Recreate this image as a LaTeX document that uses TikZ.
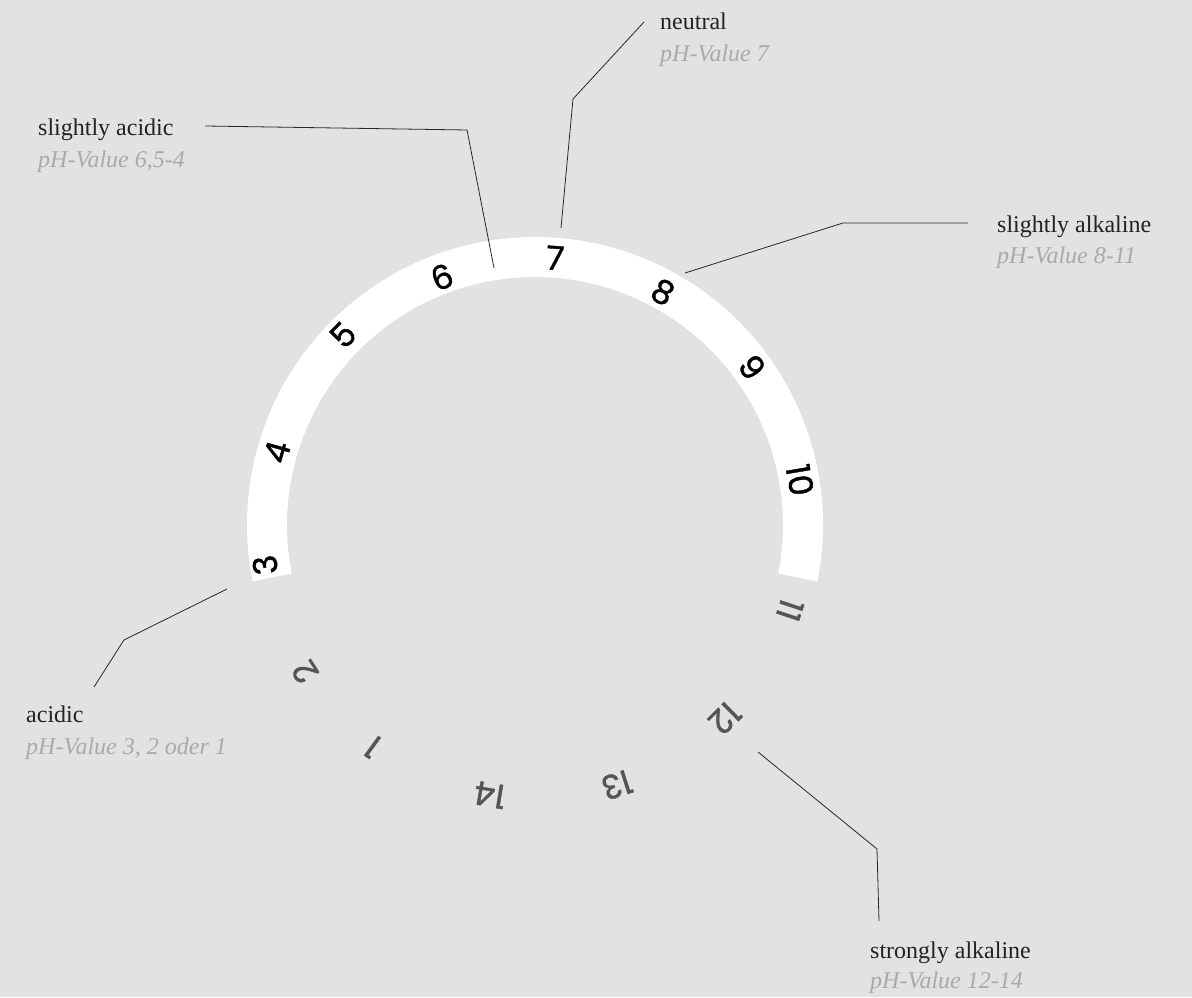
\documentclass[tikz,border=0pt]{standalone}
\usepackage{fontspec}
\setmainfont{Liberation Serif}
\newfontfamily\numfont[FakeBold=1.2]{Poppins}
\usetikzlibrary{calc}
\definecolor{bgcol}{RGB}{227,226,224}
\definecolor{titlecol}{RGB}{34,34,34}
\definecolor{subcol}{RGB}{170,170,170}
\definecolor{linecol}{RGB}{40,40,40}
\definecolor{outnum}{RGB}{85,85,85}
\begin{document}
\begin{tikzpicture}[x=1pt,y=1pt,
  numstyle/.style={inner sep=0pt,font=\numfont\fontsize{33}{33}\selectfont,text=black},
  outstyle/.style={numstyle,text=outnum},
  titlestyle/.style={anchor=base west,inner sep=0pt,font=\fontsize{24}{24}\selectfont,text=titlecol},
  substyle/.style={anchor=base west,inner sep=0pt,font=\fontsize{24}{24}\selectfont\itshape,text=subcol},
  leader/.style={draw=linecol,line width=0.8pt,line join=round}]
\fill[bgcol] (0,0) rectangle (1192,997);
\useasboundingbox (0,0) rectangle (1192,997);
\coordinate (c) at (535,472);
% band
\fill[white] ($(c)+(-11.3:288)$) arc[start angle=-11.3,end angle=191.3,radius=288]
  -- ($(c)+(191.3:248)$) arc[start angle=191.3,end angle=-11.3,radius=248] -- cycle;
% numbers on the band
\node[numstyle,rotate=98.4] (n3) at (265,432) {3};
\node[numstyle,rotate=74.2] (n4) at (277,545) {4};
\node[numstyle,rotate=45.3] (n5) at (343,662) {5};
\node[numstyle,rotate=20.6] (n6) at (442,720) {6};
\node[numstyle,rotate=-4.3] (n7) at (555,739) {7};
\node[numstyle,rotate=-28.8] (n8) at (663,705) {8};
\node[numstyle,rotate=-53.9] (n9) at (752,630) {9};
\node[numstyle,rotate=-80.4] (n10) at (800,517) {10};
% numbers outside the band
\node[outstyle,rotate=-108.4] (n11) at (790,387) {11};
\node[outstyle,rotate=-135.4] (n12) at (725,279) {12};
\node[outstyle,rotate=-162.5] (n13) at (617,212) {13};
\node[outstyle,rotate=170.5] (n14) at (490,202) {14};
\node[outstyle,rotate=143.9] (n1) at (373,250) {1};
\node[outstyle,rotate=122.6] (n2) at (305,325) {2};
% labels
\node[titlestyle] (neutral) at (660,967) {neutral};
\node[substyle] (neutralsub) at (660,935) {pH-Value 7};
\node[titlestyle] (sacid) at (38,861) {slightly acidic};
\node[substyle] (sacidsub) at (38,829) {pH-Value 6,5-4};
\node[titlestyle] (salk) at (997,764) {slightly alkaline};
\node[substyle] (salksub) at (997,733) {pH-Value 8-11};
\node[titlestyle] (acid) at (26,274) {acidic};
\node[substyle] (acidsub) at (26,242) {pH-Value 3, 2 oder 1};
\node[titlestyle] (stalk) at (870,39) {strongly alkaline};
\node[substyle] (stalksub) at (870,9) {pH-Value 12-14};
% leader points
\coordinate (neuA) at (644,975); \coordinate (neuB) at (573,898); \coordinate (neuC) at (561,769);
\coordinate (saA) at (205,871); \coordinate (saB) at (467,867); \coordinate (saC) at (494,729);
\coordinate (slA) at (968,774); \coordinate (slB) at (843,774); \coordinate (slC) at (685,724);
\coordinate (acA) at (227,408); \coordinate (acB) at (124,357); \coordinate (acC) at (94,310);
\coordinate (stA) at (758,245); \coordinate (stB) at (877,148); \coordinate (stC) at (879,76);
\draw[leader] (neuA) -- (neuB) -- (neuC);
\draw[leader] (saA) -- (saB) -- (saC);
\draw[leader] (slA) -- (slB) -- (slC);
\draw[leader] (acA) -- (acB) -- (acC);
\draw[leader] (stA) -- (stB) -- (stC);
\end{tikzpicture}
\end{document}
